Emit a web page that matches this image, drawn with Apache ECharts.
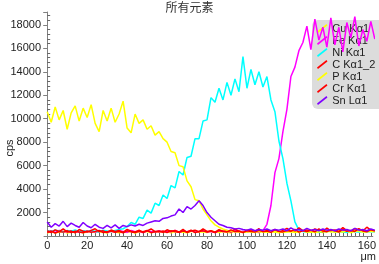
<!DOCTYPE html>
<html>
<head>
<meta charset="utf-8">
<script src="https://cdn.jsdelivr.net/npm/echarts@6/dist/echarts.min.js"></script>
<style>
html,body{margin:0;padding:0;background:#fff;}
#echart1{width:379px;height:264px;}
</style>
</head>
<body>
<div id="echart1"></div>
<script>
// 位置 (μm)
var xs = [0,2,4,6,8,10,12,14,16,18, 20,22,24,26,28,30,32,34,36,38,
          40,42,44,46,48,50,52,54,56,58, 60,62,64,66,68,70,72,74,76,78,
          80,82,84,86,88,90,92,94,96,98, 100,102,104,106,108,110,112,114,116,118,
          120,122,124,126,128,130,132,134,136,138, 140,142,144,146,148,150,152,154,156,158,
          160,162,164];

var names = ['Cu Kα1','Fe Kα1','Ni Kα1','C Kα1_2','P Kα1','Cr Kα1','Sn Lα1'];
var colors = ['#ffff00','#ff00ff','#00ffff','#ff0000','#ffff00','#ff0000','#8000ff'];

var cuVals = [250,350,280,320,400,260,340,300,380,270, 330,420,290,360,310,250,390,330,280,370,
              300,410,260,350,320,380,290,340,430,300, 360,270,390,320,350,280,400,330,310,370,
              290,440,340,300,380,320,270,410,350,300, 390,330,360,280,420,310,370,340,450,300,
              380,330,400,290,460,350,320,410,370,300, 480,340,390,320,430,360,300,500,350,400,
              330,460,380];
var feVals = [350,420,300,480,380,330,450,400,310,460, 370,420,330,390,460,300,410,350,440,380,
              320,470,360,410,300,430,380,350,450,330, 400,360,480,310,420,370,440,330,390,460,
              350,410,300,450,380,420,330,470,360,400, 310,440,380,350,450,1000,2600,5400,6600,8900,
              10800,13600,14400,15800,16500,17900,15900,18500,16700,17800, 16100,18600,16300,17800,15700,18200,16900,18700,16200,17600,
              16600,18300,16800];
var niVals = [450,380,500,420,350,480,400,520,370,440, 390,460,410,350,500,430,380,470,550,620,
              800,1150,1000,1600,1500,2200,1950,2800,2600,3500, 3200,4300,4100,5500,5200,6700,6800,8300,8300,9800,
              9900,11800,11400,12600,11600,13100,12000,13400,12300,15300, 12600,14200,12900,14000,12700,13600,11600,10600,8100,6600,
              4500,3000,1200,500,380,320,420,350,300,400, 360,440,330,390,350,300,420,370,340,410,
              360,390,350];
var cVals = [450,300,520,380,600,350,420,280,550,400, 330,480,620,360,440,300,510,390,460,320,
             570,410,350,490,300,440,600,370,420,310, 530,380,470,340,560,300,430,500,360,610,
             390,450,320,540,400,470,350,580,420,310, 500,440,380,620,350,470,400,560,330,480,
             650,420,380,700,450,520,390,610,470,350, 680,430,510,400,720,460,380,640,490,420,
             750,500,440];
var pVals = [10600,9700,11000,9900,10700,9100,10500,11100,9800,10900, 10100,11200,9600,8900,10700,9800,10900,9700,10400,11500,
             9200,8800,10400,9600,9900,9100,9400,8600,8900,8300, 8000,7200,7100,6000,5900,4700,4200,3100,3000,2300,
             1800,1300,950,750,600,480,420,380,350,330, 330,380,290,420,350,310,400,340,280,370,
             330,410,300,360,440,320,380,290,350,400, 330,470,310,380,350,420,300,390,450,340,
             370,410,360];
var crVals = [300,420,260,380,330,450,290,400,350,270, 430,310,380,480,290,360,420,310,390,270,
              440,350,300,410,360,470,280,390,340,430, 300,460,370,320,420,350,500,300,380,440,
              330,410,290,460,380,340,520,360,410,300, 450,390,330,480,370,420,310,540,390,350,
              470,410,560,330,440,380,490,360,600,420, 370,510,450,340,580,400,470,390,620,430,
              360,540,420];
var snVals = [1200,750,1050,850,1250,800,1100,900,750,1150, 850,700,1000,750,650,900,700,950,650,900,
              800,950,850,1000,900,1100,1200,1300,1250,1500, 1550,1700,1800,2300,2000,2500,2300,2600,3000,2600,
              2000,1600,1300,1000,900,750,700,600,650,550, 500,600,450,550,500,600,450,550,500,600,
              450,700,500,550,450,650,500,550,450,600, 500,550,450,600,500,550,450,650,500,550,
              450,600,500];

var allVals = [cuVals, feVals, niVals, cVals, pVals, crVals, snVals];

echarts_1();

function echarts_1() {
var myChart = echarts.init(document.getElementById('echart1'));

var series = names.map(function (n, k) {
    return {
        name: n,
        type: 'line',
        showSymbol: false,
        symbol: 'none',
        xAxisIndex: 0,
        yAxisIndex: 0,
        lineStyle: { color: colors[k], width: 1.5 },
        itemStyle: { color: colors[k] },
        data: xs.map(function (x, i) { return [x, allVals[k][i]]; })
    };
});

var axisGray = '#808080';
option = {
    animation: false,
    textStyle: { fontFamily: 'Liberation Sans, Arial, sans-serif' },
    title: {
        text: '所有元素',
        left: 'center',
        top: 1,
        padding: 0,
        textStyle: { fontSize: 12, fontWeight: 'normal', color: '#333', fontFamily: 'Noto Sans CJK SC' }
    },
    legend: {
        orient: 'vertical',
        left: 312,
        top: 20,
        z: 1,
        padding: [3, 16, 3, 5],
        itemGap: 1,
        itemWidth: 12,
        itemHeight: 9,
        backgroundColor: '#dcdcdc',
        borderRadius: 6,
        icon: 'path://M0,8 L10,0 L11,1.5 L1,9.5 Z',
        data: names,
        textStyle: { color: '#222', fontSize: 11, padding: [0, 0, 0, -1] }
    },
    grid: { left: 44, right: 1, top: 12, bottom: 28 },
    xAxis: [{
        type: 'value',
        min: -1.6,
        max: 163,
        splitNumber: 8,
        axisLine: { lineStyle: { color: axisGray } },
        axisTick: { show: true, length: 3, lineStyle: { color: axisGray } },
        axisLabel: { color: '#222', fontSize: 11, margin: 4, showMinLabel: false, showMaxLabel: false,
            formatter: function (v) { return v % 20 === 0 ? v : ''; } },
        splitLine: { show: false }
    }, {
        type: 'value',
        min: -1.6,
        max: 163,
        splitNumber: 8,
        position: 'bottom',
        axisLine: { show: false },
        axisLabel: { show: false },
        axisTick: { show: true, inside: true, length: 0 },
        minorTick: { show: true, splitNumber: 10, length: 3, lineStyle: { color: '#666' } },
        splitLine: { show: false }
    }],
    yAxis: [{
        type: 'value',
        min: 0,
        max: 19100,
        interval: 2000,
        axisLine: { show: true, lineStyle: { color: axisGray } },
        axisTick: { show: true, length: 4, lineStyle: { color: axisGray } },
        axisLabel: { color: '#222', fontSize: 11, margin: 3, showMinLabel: false,
            formatter: function (v) { return (v > 0 && v % 2000 === 0) ? v : ''; } },
        splitLine: { show: false }
    }, {
        type: 'value',
        min: 0,
        max: 19100,
        interval: 2000,
        position: 'left',
        axisLine: { show: false },
        axisLabel: { show: false },
        axisTick: { show: true, inside: true, length: 0 },
        minorTick: { show: true, splitNumber: 5, length: 3, lineStyle: { color: '#666' } },
        splitLine: { show: false }
    }],
    graphic: [{
        type: 'text',
        x: 10,
        y: 148,
        rotation: Math.PI / 2,
        style: { text: 'cps', fill: '#222', font: '11px Liberation Sans', align: 'center', verticalAlign: 'middle' }
    }, {
        type: 'text',
        right: 3,
        bottom: 2,
        style: { text: 'μm', fill: '#222', font: '11px Liberation Sans' }
    }],
    series: series
};
myChart.setOption(option);
}
</script>
</body>
</html>
